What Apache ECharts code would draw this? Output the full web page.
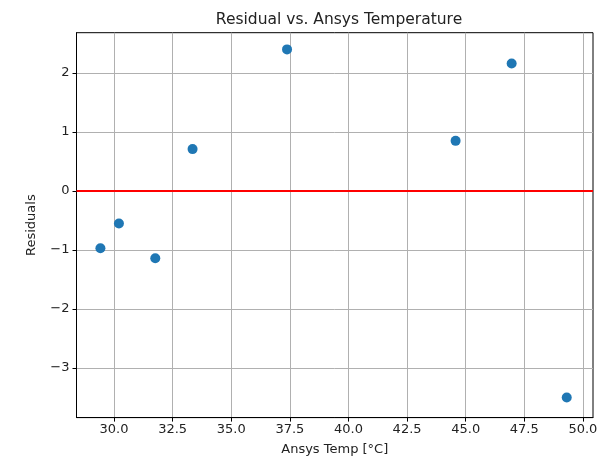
<!DOCTYPE html>
<html>
<head>
<meta charset="utf-8">
<script src="https://cdn.jsdelivr.net/npm/echarts@6/dist/echarts.min.js"></script>
<style>
  html, body { margin: 0; padding: 0; background: #fff; }
  #chart { width: 605px; height: 458px; }
</style>
</head>
<body>
<div id="chart"></div>
<script>
"use strict";
// data
var ansysTemp = [29.42, 30.21, 31.76, 33.35, 37.38, 44.57, 46.96, 49.31];
var residuals = [-0.97, -0.55, -1.14, 0.71, 2.40, 0.85, 2.16, -3.50];
var xTicks = [30.0, 32.5, 35.0, 37.5, 40.0, 42.5, 45.0, 47.5, 50.0];
var yTicks = [-3, -2, -1, 0, 1, 2];

var font = "DejaVu Sans";
var points = ansysTemp.map(function (t, i) { return [t, residuals[i]]; });

function minus(v) {
    return String(v).replace("-", "\u2212");
}

var chart = echarts.init(document.getElementById("chart"));
chart.setOption({
    animation: false,
    backgroundColor: "#fff",
    title: {
        text: "Residual vs. Ansys Temperature",
        left: 334,
        top: 7,
        textAlign: "center",
        textStyle: { fontFamily: font, fontSize: 15.5, fontWeight: "normal", color: "#222" }
    },
    grid: {
        left: 76.5, right: 12, top: 32.7, bottom: 40.4,
        outerBoundsMode: "none",
        containLabel: false,
        show: true, borderColor: "#000", borderWidth: 1, backgroundColor: "transparent"
    },
    xAxis: {
        type: "value",
        min: 28.4,
        max: 50.43,
        name: "Ansys Temp [°C]",
        nameLocation: "middle",
        nameGap: 26,
        nameTextStyle: { fontFamily: font, fontSize: 13, color: "#222" },
        axisLine: { show: true, onZero: false, lineStyle: { color: "#000", width: 1 } },
        axisTick: { show: true, customValues: xTicks, length: 4, lineStyle: { color: "#000" } },
        axisLabel: {
            customValues: xTicks,
            formatter: function (v) { return v.toFixed(1); },
            fontFamily: font, fontSize: 13, color: "#222", margin: 6
        },
        splitLine: { show: true, lineStyle: { color: "#b0b0b0", width: 1 } }
    },
    yAxis: {
        type: "value",
        min: -3.84,
        max: 2.683,
        name: "Residuals",
        nameLocation: "middle",
        nameGap: 38,
        nameTextStyle: { fontFamily: font, fontSize: 13, color: "#222" },
        axisLine: { show: true, onZero: false, lineStyle: { color: "#000", width: 1 } },
        axisTick: { show: true, customValues: yTicks, length: 4, lineStyle: { color: "#000" } },
        axisLabel: {
            customValues: yTicks,
            formatter: function (v) { return minus(v); },
            fontFamily: font, fontSize: 13, color: "#222", margin: 7
        },
        splitLine: { show: true, lineStyle: { color: "#b0b0b0", width: 1 } }
    },
    series: [{
        type: "scatter",
        data: points,
        symbolSize: 10,
        itemStyle: { color: "#1f77b4", opacity: 1 },
        markLine: {
            silent: true,
            symbol: ["none", "none"],
            label: { show: false },
            lineStyle: { color: "#ff0000", width: 2, type: "solid" },
            data: [{ yAxis: 0 }]
        }
    }]
});
</script>
</body>
</html>
